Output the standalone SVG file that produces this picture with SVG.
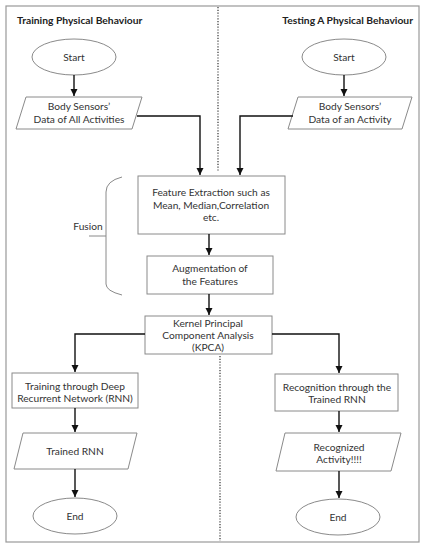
<svg xmlns="http://www.w3.org/2000/svg" width="426" height="550" viewBox="0 0 426 550">
<defs>
<marker id="ah" markerWidth="8" markerHeight="8" refX="7" refY="4" orient="auto" markerUnits="userSpaceOnUse">
<path d="M0,0.5 L7,4 L0,7.5 Z" fill="#111"/>
</marker>
<style>
.shape{fill:#fff;stroke:#8a8a8a;stroke-width:1}
.t{font-family:Lato,"Open Sans",sans-serif;font-size:10.2px;fill:#333;text-anchor:middle}
.title{font-family:Lato,"Open Sans",sans-serif;font-size:10.3px;font-weight:bold;fill:#222}
.c{fill:none;stroke:#111;stroke-width:1.4;marker-end:url(#ah)}
.dot{stroke:#333;stroke-width:1.2;stroke-dasharray:1.2 1.6}
</style>
</defs>
<rect x="6" y="6" width="413" height="536" fill="#fff" stroke="#999" stroke-width="1.2"/>
<line class="dot" x1="218" y1="7" x2="218" y2="172"/>
<line class="dot" x1="220" y1="356" x2="220" y2="541"/>
<text class="title" x="17" y="24">Training Physical Behaviour</text>
<text class="title" x="413" y="24" text-anchor="end">Testing A Physical Behaviour</text>

<g id="start1"><ellipse class="shape" cx="74" cy="57" rx="42" ry="18"/><text class="t" x="74" y="60.5">Start</text></g>
<g id="start2"><ellipse class="shape" cx="344" cy="57" rx="42" ry="18"/><text class="t" x="344" y="60.5">Start</text></g>
<g id="data1"><polygon class="shape" points="26,97 142,97 132,129 16,129"/><text class="t" x="79" y="110">Body Sensors’</text><text class="t" x="79" y="123">Data of All Activities</text></g>
<g id="data2"><polygon class="shape" points="298,97 412,97 402,129 288,129"/><text class="t" x="350" y="110">Body Sensors’</text><text class="t" x="350" y="123">Data of an Activity</text></g>
<g id="feat"><rect class="shape" x="138" y="176" width="147" height="58"/><text class="t" x="211" y="196">Feature Extraction such as</text><text class="t" x="211" y="208.5">Mean, Median,Correlation</text><text class="t" x="211" y="221">etc.</text></g>
<g id="aug"><rect class="shape" x="147" y="256" width="126" height="38"/><text class="t" x="210" y="272">Augmentation of</text><text class="t" x="210" y="285">the Features</text></g>
<g id="fusion"><path d="M122,177 Q106,181 106,192 L106,284 Q106,291 122,295" fill="none" stroke="#8a8a8a" stroke-width="1"/><line x1="89" y1="236" x2="106" y2="236" stroke="#8a8a8a" stroke-width="1"/><text class="t" x="88" y="230">Fusion</text></g>
<g id="kpca"><rect class="shape" x="145" y="316" width="127" height="38"/><text class="t" x="208" y="327">Kernel Principal</text><text class="t" x="208" y="339">Component Analysis</text><text class="t" x="208" y="351">(KPCA)</text></g>
<g id="train"><rect class="shape" x="12" y="373" width="126" height="35"/><text class="t" x="75" y="390">Training through Deep</text><text class="t" x="75" y="402">Recurrent Network (RNN)</text></g>
<g id="rec"><rect class="shape" x="275" y="374" width="123" height="37"/><text class="t" x="337" y="391">Recognition through the</text><text class="t" x="337" y="403">Trained RNN</text></g>
<g id="trained"><polygon class="shape" points="23,433 137,433 128,469 14,469"/><text class="t" x="75" y="455">Trained RNN</text></g>
<g id="recog"><polygon class="shape" points="285,433 401,433 391,471 276,471"/><text class="t" x="339" y="451">Recognized</text><text class="t" x="339" y="463">Activity!!!!</text></g>
<g id="end1"><ellipse class="shape" cx="75" cy="516" rx="42" ry="18"/><text class="t" x="75" y="519.5">End</text></g>
<g id="end2"><ellipse class="shape" cx="338" cy="517" rx="42" ry="18"/><text class="t" x="338" y="520.5">End</text></g>

<g id="connectors">
<path class="c" d="M74,75 V96"/>
<path class="c" d="M344,75 V96"/>
<path class="c" d="M137,116 H200 V175"/>
<path class="c" d="M293,116 H240 V175"/>
<path class="c" d="M209,234 V255"/>
<path class="c" d="M209,294 V315"/>
<path class="c" d="M145,334 H75 V372"/>
<path class="c" d="M272,334 H339 V373"/>
<path class="c" d="M75,408 V432"/>
<path class="c" d="M339,411 V432"/>
<path class="c" d="M75,469 V497"/>
<path class="c" d="M339,471 V498"/>
</g>
</svg>
